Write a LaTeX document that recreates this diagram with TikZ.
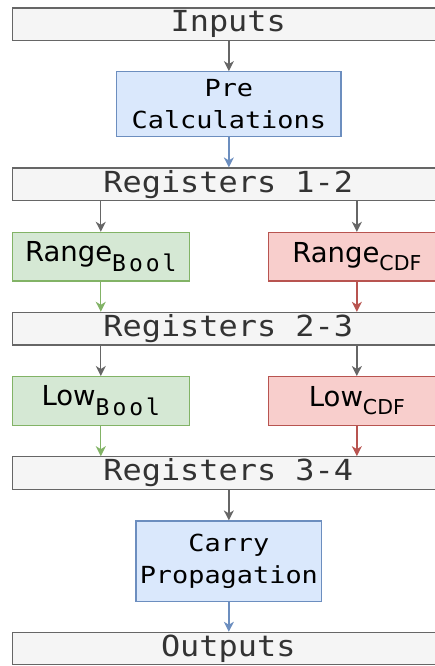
\documentclass[tikz,border=0pt]{standalone}
\usepackage{fontspec}
\usetikzlibrary{arrows.meta}

% Fonts
\newfontfamily\regfont[FakeStretch=1.1]{DejaVu Sans Mono}
\newfontfamily\stepfont[FakeStretch=1.145]{DejaVu Sans Mono}
\newfontfamily\boolfont[LetterSpace=13]{DejaVu Sans Mono}
\newfontfamily\namefont{DejaVu Sans}

% Colours
\definecolor{grayfill}{HTML}{F5F5F5}
\definecolor{grayline}{HTML}{666666}
\definecolor{graytext}{HTML}{333333}
\definecolor{bluefill}{HTML}{DAE8FC}
\definecolor{blueline}{HTML}{6C8EBF}
\definecolor{greenfill}{HTML}{D5E8D4}
\definecolor{greenline}{HTML}{82B366}
\definecolor{redfill}{HTML}{F8CECC}
\definecolor{redline}{HTML}{B85450}

% Main word with a lowered index
\newcommand\boolidx[1]{{\namefont\fontsize{27.5}{30}\selectfont #1}\raisebox{-9.5pt}{\boolfont\fontsize{23}{26}\selectfont Bool}}
\newcommand\cdfidx[1]{{\namefont\fontsize{27.5}{30}\selectfont #1}\raisebox{-8.5pt}{\namefont\fontsize{20.5}{24}\selectfont CDF}}

\begin{document}
\begin{tikzpicture}[x=1pt,y=-1pt,
  box/.style={rectangle, inner sep=0pt, line width=1.2pt},
  regbox/.style={box, fill=grayfill, draw=grayline, text=graytext,
    minimum width=431.5pt, minimum height=32.5pt,
    font=\regfont\fontsize{29}{32}\selectfont},
  calcbox/.style={box, fill=bluefill, draw=blueline, text=black, align=center,
    font=\stepfont\fontsize{23.5}{32.5}\selectfont},
  boolbox/.style={box, fill=greenfill, draw=greenline, text=black,
    minimum width=177pt, minimum height=48.5pt},
  cdfbox/.style={box, fill=redfill, draw=redline, text=black,
    minimum width=176.3pt, minimum height=48.5pt},
  flow/.style={line width=1.3pt, -{Stealth[length=10pt,width=10pt,inset=3pt]}},
  grayflow/.style={flow, draw=grayline, fill=grayline},
  blueflow/.style={flow, draw=blueline, fill=blueline},
  greenflow/.style={flow, draw=greenline, fill=greenline},
  redflow/.style={flow, draw=redline, fill=redline}]

\useasboundingbox (0,0) rectangle (435,666);
\clip (0,0) rectangle (435,666);

% Register rows
\node[regbox] (inputs)  at (228.25, 24.25) {Inputs};
\node[regbox] (reg12)   at (228.25,184.25) {Registers 1-2};
\node[regbox] (reg23)   at (228.25,328.65) {Registers 2-3};
\node[regbox] (reg34)   at (228.25,473.0)  {Registers 3-4};
\node[regbox] (outputs) at (228.25,648.6)  {Outputs};

% Calculation stages
\node[calcbox, minimum width=224.3pt, minimum height=65pt]
  (pre) at (228.85,104.2) {Pre\\Calculations};
\node[calcbox, minimum width=185.7pt, minimum height=80.7pt]
  (carry) at (228.85,561.35) {Carry\\Propagation};

\node[boolbox] (rbool) at (100.8,256.65) {\boolidx{Range}};
\node[cdfbox]  (rcdf)  at (356.85,256.65) {\cdfidx{Range}};
\node[boolbox] (lbool) at (100.8,400.85) {\boolidx{Low}};
\node[cdfbox]  (lcdf)  at (356.85,400.85) {\cdfidx{Low}};

% Connectors
\draw[grayflow]  (inputs.south -| pre.north) -- (pre.north);
\draw[blueflow]  (pre.south) -- (pre.south |- reg12.north);

\draw[grayflow]  (reg12.south -| rbool.north) -- (rbool.north);
\draw[grayflow]  (reg12.south -| rcdf.north) -- (rcdf.north);
\draw[greenflow] (rbool.south) -- (rbool.south |- reg23.north);
\draw[redflow]   (rcdf.south) -- (rcdf.south |- reg23.north);

\draw[grayflow]  (reg23.south -| lbool.north) -- (lbool.north);
\draw[grayflow]  (reg23.south -| lcdf.north) -- (lcdf.north);
\draw[greenflow] (lbool.south) -- (lbool.south |- reg34.north);
\draw[redflow]   (lcdf.south) -- (lcdf.south |- reg34.north);

\draw[grayflow]  (reg34.south -| carry.north) -- (carry.north);
\draw[blueflow]  (carry.south) -- (carry.south |- outputs.north);
\end{tikzpicture}
\end{document}
